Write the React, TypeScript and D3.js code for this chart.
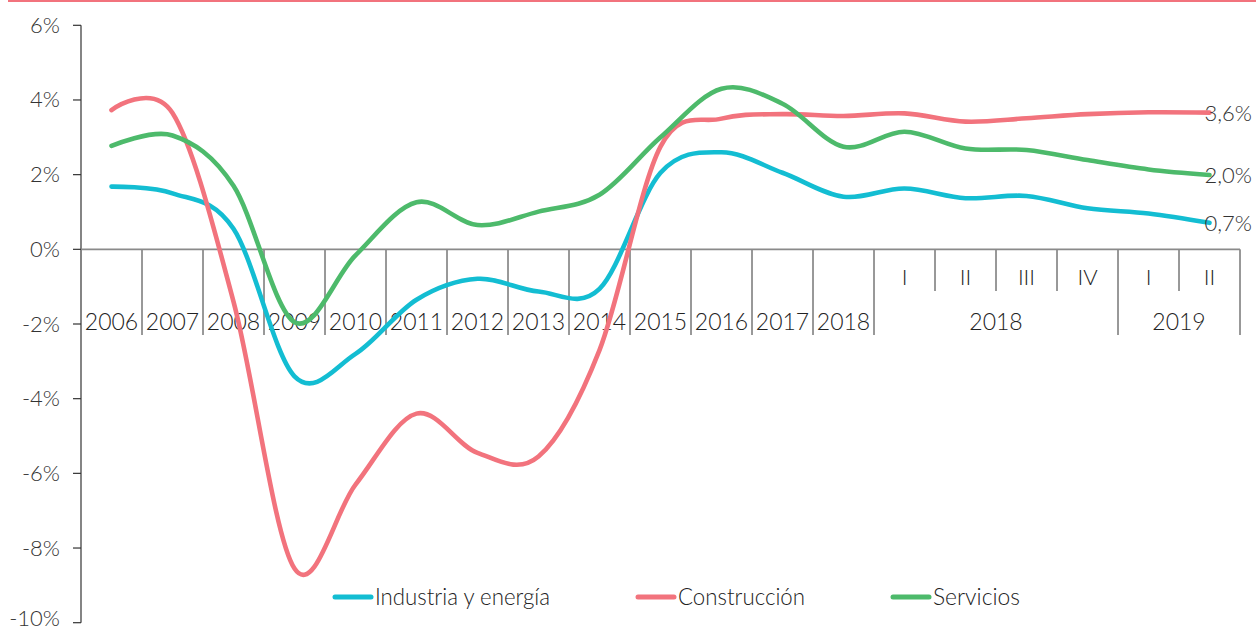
import React from 'react';
import * as d3 from 'd3';

// categories: 13 annual values, then quarters of 2018 and 2019
const categories = ['2006', '2007', '2008', '2009', '2010', '2011', '2012', '2013', '2014', '2015', '2016', '2017', '2018',
  '2018-I', '2018-II', '2018-III', '2018-IV', '2019-I', '2019-II'];
const yearLabels = ['2006', '2007', '2008', '2009', '2010', '2011', '2012', '2013', '2014', '2015', '2016', '2017', '2018'];
const quarterLabels = ['I', 'II', 'III', 'IV', 'I', 'II'];
const groupLabels = ['2018', '2019'];
const groupSizes = [4, 2];

const industria = [1.68, 1.5, 0.55, -3.4, -2.8, -1.35, -0.79, -1.13, -1.06, 2.05, 2.6, 2.05, 1.41,
  1.63, 1.37, 1.43, 1.1, 0.96, 0.71];
const construccion = [3.73, 3.65, -1.4, -8.55, -6.3, -4.4, -5.45, -5.55, -2.7, 2.75, 3.5, 3.62, 3.57,
  3.64, 3.42, 3.51, 3.62, 3.67, 3.66];
const servicios = [2.77, 3.05, 1.7, -1.95, -0.16, 1.26, 0.65, 1.01, 1.46, 3.0, 4.3, 3.9, 2.75,
  3.15, 2.7, 2.66, 2.39, 2.14, 1.99];

const seriesNames = ['Industria y energía', 'Construcción', 'Servicios'];
const endLabels = ['0,7%', '3,6%', '2,0%'];
const yTicks = [6, 4, 2, 0, -2, -4, -6, -8, -10];

const colors = ['#13BDD2', '#F2737D', '#4DBA6B'];
const font = 'Lato, "Open Sans", sans-serif';

export default function App() {
  const width = 1256;
  const height = 630;

  const x = d3.scaleBand<string>().domain(categories).range([81, 1240]).padding(0);
  const y = d3.scaleLinear().domain([-10, 6]).range([622.7, 25.3]);
  const cx = (i: number) => (x(categories[i]) as number) + x.bandwidth() / 2;

  const line = d3.line<number>()
    .x((d, i) => cx(i))
    .y((d) => y(d))
    .curve(d3.curveCardinal.tension(0));

  const series = [industria, construccion, servicios];
  const y0 = y(0);
  const bw = x.bandwidth();
  const nYears = yearLabels.length;

  // boundaries between categories
  const bounds: { x: number; long: boolean }[] = [];
  const groupEnds = new Set<number>();
  let acc = nYears;
  groupSizes.forEach((s) => { acc += s; groupEnds.add(acc); });
  for (let i = 1; i <= categories.length; i++) {
    const bx = i < categories.length ? (x(categories[i]) as number) : x.range()[1];
    const long = i <= nYears || groupEnds.has(i);
    bounds.push({ x: bx, long });
  }

  let gStart = nYears;
  const groups = groupLabels.map((lab, gi) => {
    const from = gStart;
    gStart += groupSizes[gi];
    const x0 = x(categories[from]) as number;
    return { lab, mid: x0 + (groupSizes[gi] * bw) / 2 };
  });

  const legendX = [335, 638, 893];
  const legendW = [175, 127, 87];

  return (
    <svg width={width} height={height} style={{ position: 'absolute', left: 0, top: 0, background: '#fff' }}
      fontFamily={font}>
      <line x1={8} x2={width} y1={1} y2={1} stroke="#F2737D" strokeWidth={2} />

      {/* y axis */}
      <line x1={81} x2={81} y1={y(6)} y2={y(-10)} stroke="#333" strokeWidth={1.2} />
      {yTicks.map((t) => (
        <g key={t}>
          <line x1={73} x2={81} y1={y(t)} y2={y(t)} stroke="#333" strokeWidth={1.2} />
          <text x={60} y={Math.min(y(t) + 7.5, 626)} textAnchor="end" fontSize={22} fontWeight={300} fill="#333">{t}%</text>
        </g>
      ))}

      {/* category boundaries */}
      {bounds.map((b, i) => (
        <line key={i} x1={b.x} x2={b.x} y1={y0} y2={b.long ? 335 : 291} stroke="#333" strokeWidth={1} />
      ))}
      <line x1={81} x2={1240} y1={y0} y2={y0} stroke="#8a8a8a" strokeWidth={1.6} />

      {yearLabels.map((l, i) => (
        <text key={'y' + i} x={cx(i)} y={329.5} textAnchor="middle" fontSize={23} fontWeight={300} fill="#222">{l}</text>
      ))}
      {quarterLabels.map((l, i) => (
        <text key={'q' + i} x={cx(nYears + i)} y={285} textAnchor="middle" fontSize={22} fontWeight={300} fill="#222">{l}</text>
      ))}
      {groups.map((g) => (
        <text key={g.lab} x={g.mid} y={330} textAnchor="middle" fontSize={23} fontWeight={300} fill="#222">{g.lab}</text>
      ))}

      {/* series */}
      {series.map((s, k) => (
        <path key={k} d={line(s) || ''} fill="none" stroke={colors[k]} strokeWidth={4.6} strokeLinecap="round" />
      ))}
      {series.map((s, k) => (
        <text key={'e' + k} x={cx(s.length - 1) - 5} y={y(s[s.length - 1]) + 8} fontSize={22} fontWeight={300} fill="#333">
          {endLabels[k]}
        </text>
      ))}

      {/* legend */}
      {seriesNames.map((n, k) => (
        <g key={n}>
          <line x1={legendX[k]} x2={legendX[k] + 36} y1={597} y2={597} stroke={colors[k]} strokeWidth={5} strokeLinecap="round" />
          <text x={legendX[k] + 40} y={605} fontSize={24} fontWeight={300} fill="#222"
            textLength={legendW[k]} lengthAdjust="spacingAndGlyphs">{n}</text>
        </g>
      ))}
    </svg>
  );
}
